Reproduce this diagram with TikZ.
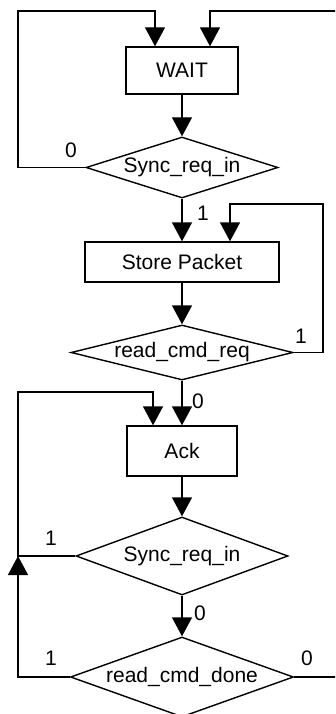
\documentclass[tikz,border=0pt]{standalone}
\usepackage{fontspec}
\setmainfont{Liberation Sans}
\usetikzlibrary{shapes.geometric,arrows.meta}

\begin{document}
\begin{tikzpicture}[
        % 以像素为单位：x 向右，y 向下
        x={(1pt, 0pt)},
        y={(0pt, -1pt)},
        line width=1.4pt, % 线条稍粗
        font=\fontsize{21}{25}\selectfont,
        % 状态框
        state/.style={draw, rectangle, inner sep=0pt},
        % 判断框（菱形），大小只由 minimum width/height 决定
        cond/.style={draw, diamond, inner sep=0pt, aspect=1},
        % 带实心三角箭头的连线
        flow/.style={-{Triangle[length=19pt, width=20pt]}},
        lbl/.style={inner sep=0pt}
    ]
    % 主干所在的横坐标
    \def\cx{182}

    % 画布大小，并裁掉画面外的回线
    \useasboundingbox (0,0) rectangle (335,714);
    \clip (0,0) rectangle (335,714);

    % --- 状态与判断 ---
    \node[state, minimum width=112pt, minimum height=47pt] (wait) at (\cx,70.5) {WAIT};
    \node[cond, minimum width=192pt, minimum height=61pt] (sync1) at (\cx,167.5) {\makebox[0pt]{Sync\_req\_in}};
    \node[state, minimum width=194pt, minimum height=40pt] (store) at (\cx,262) {Store Packet};
    \node[cond, minimum width=222pt, minimum height=55pt] (cmdreq) at (\cx,352.5) {\makebox[0pt]{read\_cmd\_req}};
    \node[state, minimum width=110pt, minimum height=50pt] (ack) at (\cx,451) {Ack};
    \node[cond, minimum width=212pt, minimum height=78pt] (sync2) at (\cx,556) {\makebox[0pt]{Sync\_req\_in}};
    \node[cond, minimum width=223pt, minimum height=80pt] (cmddone) at (\cx,677) {\makebox[0pt]{read\_cmd\_done}};

    % --- 回线用的辅助坐标 ---
    \coordinate (railL) at (18,0);
    \coordinate (railR) at (323,0);
    \coordinate (railX) at (345,0); % 在画面右边之外
    \coordinate (top1) at (0,11);
    \coordinate (top2) at (0,204);
    \coordinate (top3) at (0,392);

    % --- 主干 ---
    \draw[flow] (wait) -- (sync1);
    \draw[flow] (sync1) -- (store);
    \draw[flow] (store) -- (cmdreq);
    \draw[flow] (cmdreq) -- (ack);
    \draw[flow] (ack) -- (sync2);
    \draw[flow] (sync2) -- (cmddone);

    % --- 回线 ---
    \draw[flow] (sync1.west) -| (railL |- top1) -| ([xshift=-27pt]wait.north);
    \draw[flow] (cmddone.east) -| (railX |- top1) -| ([xshift=28pt]wait.north);
    \draw[flow] (cmdreq.east) -| (railR |- top2) -| ([xshift=48pt]store.north);
    \draw[flow] (cmddone.west) -| (railL |- sync2.west);
    \draw[flow] (sync2.west) -| (railL |- top3) -| ([xshift=-29pt]ack.north);

    % --- 分支标注 ---
    \node[lbl] (sync1no) at (71,150) {0};
    \node[lbl] (sync1yes) at (203,213) {1};
    \node[lbl] (cmdreqyes) at (301,336) {1};
    \node[lbl] (cmdreqno) at (198,401) {0};
    \node[lbl] (sync2yes) at (51,538) {1};
    \node[lbl] (sync2no) at (200,613) {0};
    \node[lbl] (cmddoneyes) at (51,658) {1};
    \node[lbl] (cmddoneno) at (307,658) {0};

\end{tikzpicture}
\end{document}
